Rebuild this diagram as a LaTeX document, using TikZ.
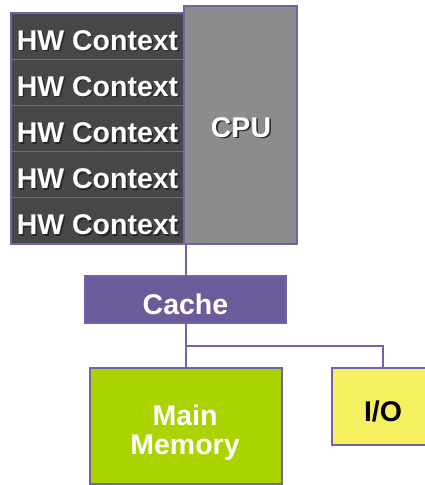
\documentclass[tikz,border=0pt]{standalone}
\usepackage{fontspec}
\setmainfont{Liberation Sans}
\usepackage{tikz}
\definecolor{hwgray}{HTML}{474747}
\definecolor{cpugray}{HTML}{8C8C8C}
\definecolor{edgepurple}{HTML}{7264A4}
\definecolor{cachepurple}{HTML}{6B5B9B}
\definecolor{memgreen}{HTML}{AAD400}
\definecolor{ioyellow}{HTML}{F5F060}
\newcommand\shtext[1]{\leavevmode\rlap{\kern1.6pt\raisebox{-1.6pt}{\color{black!85}#1}}#1}
\tikzset{
  box/.style={draw=edgepurple, line width=1.3pt, inner sep=0pt},
  hwbox/.style={box, fill=hwgray, minimum width=173pt, minimum height=46.2pt},
  lbl/.style={font=\fontsize{28.5}{29}\selectfont\bfseries, text=white, inner sep=0pt},
  wire/.style={draw=edgepurple, line width=1.3pt},
}
\begin{document}
\begin{tikzpicture}[x=1pt,y=-1pt]
\useasboundingbox (0,0) rectangle (425,485);
% CPU
\node[box, fill=cpugray, minimum width=113pt, minimum height=238pt] (cpu) at (240.5,125) {};
\node[lbl, anchor=base] (cpul) at (241,137) {\shtext{CPU}};
% HW contexts
\foreach \i in {0,...,4}{
  \node[hwbox] (hw\i) at (97.5,{36.1+46.2*\i}) {};
  \node[lbl, anchor=base] (hwl\i) at (97.5,{50+46.2*\i}) {\shtext{HW Context}};
}
% Cache
\node[box, fill=cachepurple, minimum width=201pt, minimum height=47pt] (cache) at (185.5,299.5) {};
\node[lbl, anchor=base] (cachel) at (185.5,314) {Cache};
% Main memory
\node[box, fill=memgreen, minimum width=192pt, minimum height=116pt] (mem) at (186,426) {};
\node[lbl, align=center] (meml) at (185,433) {Main\\Memory};
% I/O
\node[box, fill=ioyellow, minimum width=102pt, minimum height=77pt] (io) at (383,406.5) {};
\node[lbl, anchor=base, text=black] (iol) at (383,421.5) {I/O};
% wires
\coordinate (cpub) at (186,244);
\coordinate (cachet) at (186,276);
\coordinate (cacheb) at (186,323);
\coordinate (br) at (186,346);
\coordinate (brio) at (383,346);
\draw[wire] (cpub) -- (cachet);
\draw[wire] (cacheb) -- (mem.north -| cacheb);
\draw[wire] (br) -- (brio) -- (io.north);
\end{tikzpicture}
\end{document}
